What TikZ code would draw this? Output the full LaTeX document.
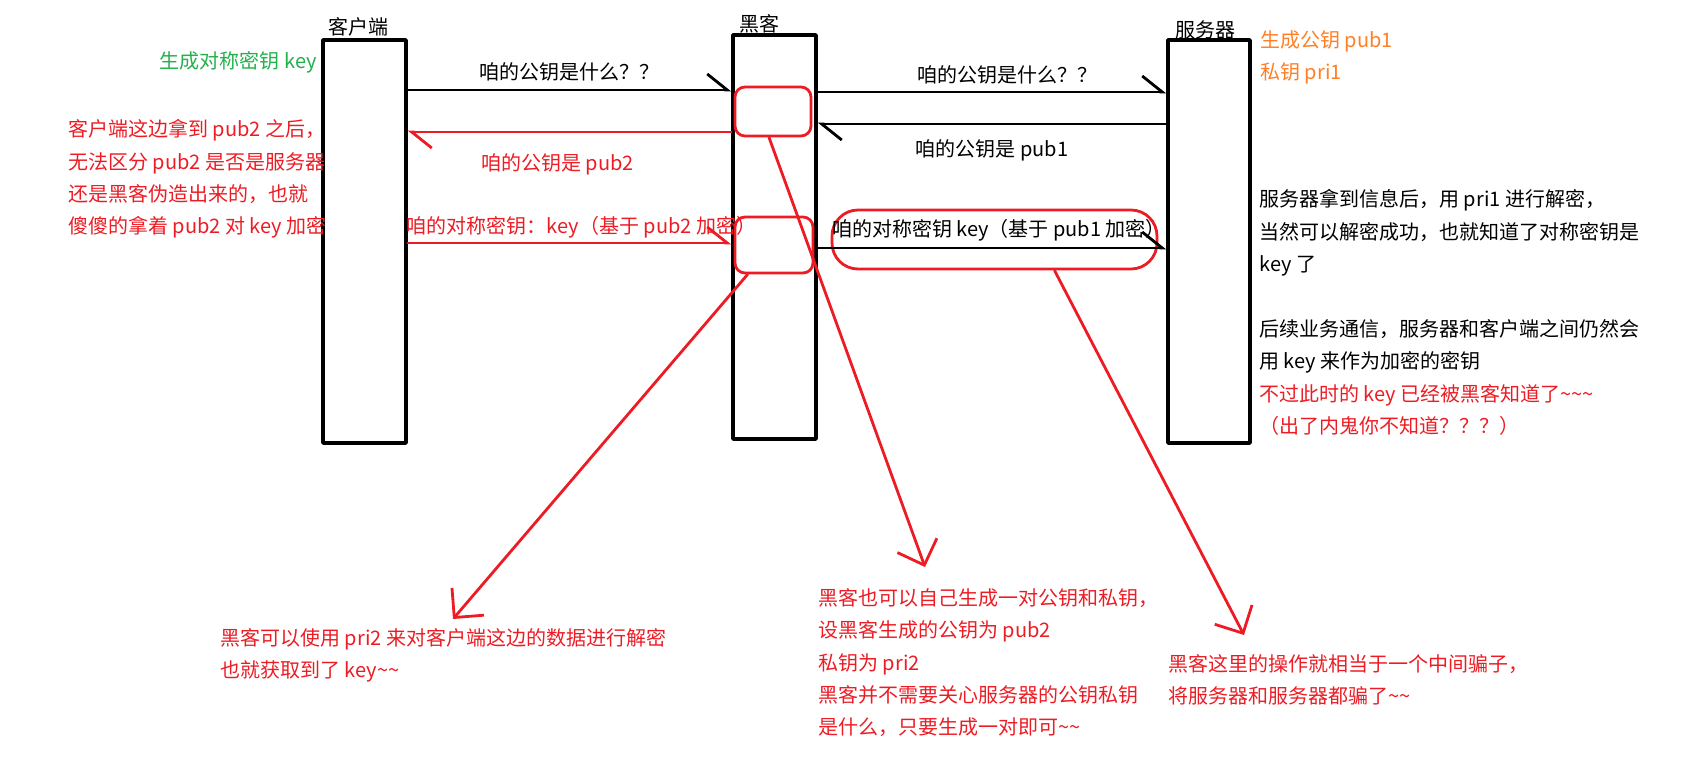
\documentclass[tikz,border=0pt]{standalone}
\usepackage{fontspec}
\setmainfont{Noto Sans CJK SC}
\usetikzlibrary{arrows.meta}
\definecolor{paintred}{RGB}{237,28,36}
\definecolor{paintgreen}{RGB}{34,177,76}
\definecolor{paintorange}{RGB}{255,127,39}
\tikzset{
  lifeline/.style={draw,line width=1.8pt,minimum width=41.5pt,minimum height=201.5pt,inner sep=0},
  fakebox/.style={draw=paintred,line width=1.4pt,rounded corners=5pt,inner sep=0},
  msg/.style={line width=1.4pt,-{Straight Barb[left,length=10pt,width=16pt]}},
  leak/.style={draw=paintred,line width=1.4pt,-{Straight Barb[length=10.5pt,width=21pt]}},
  lbl/.style={inner sep=0,font=\fontsize{10pt}{16.2pt}\selectfont},
  note/.style={inner sep=0,align=left,anchor=north west,font=\fontsize{10pt}{16.2pt}\selectfont}
}
\begin{document}
\begin{tikzpicture}[x=0.5pt,y=-0.5pt,line cap=round,line join=round]
  \useasboundingbox (0,0) rectangle (1692,757);
  % the three parties
  \node[lifeline] (client) at (364.5,241.5) {};
  \node[lifeline,minimum height=202pt] (hacker) at (774.5,237) {};
  \node[lifeline,minimum width=41pt] (server) at (1209,241.5) {};
  \node[lbl] (clientname) at (358,27) {客户端};
  \node[lbl] (hackername) at (759,24) {黑客};
  \node[lbl] (servername) at (1205,30) {服务器};
  % red marks on the hacker
  \node[fakebox,minimum width=38pt,minimum height=24.5pt] (fakepub) at (773,111.5) {};
  \node[fakebox,minimum width=39pt,minimum height=28pt] (fakekey) at (774,245) {};
  \node[fakebox,rounded corners=13pt,minimum width=162.5pt,minimum height=29.5pt] (realkey) at (994.5,239.5) {};
  % messages
  \draw[msg] (client.east |- 0,90) -- (hacker.west |- 0,90)
    node[lbl,midway,above=3.5pt] {咱的公钥是什么？？};
  \draw[msg] (hacker.east |- 0,92) -- (server.west |- 0,92)
    node[lbl,midway,above=3pt,xshift=7.5pt] {咱的公钥是什么？？};
  \draw[msg] (server.west |- 0,124) -- (hacker.east |- 0,124)
    node[lbl,midway,below=7pt] {咱的公钥是 pub1};
  \draw[msg,paintred] (hacker.west |- 0,132) -- (client.east |- 0,132)
    node[lbl,midway,below=10pt,xshift=-6pt] {咱的公钥是 pub2};
  \draw[msg,paintred] (client.east |- 0,243) -- (hacker.west |- 0,243)
    node[lbl,midway,above=1.5pt,xshift=6pt] {咱的对称密钥：key（基于 pub2 加密）};
  \draw[msg] (hacker.east |- 0,248) -- (server.west |- 0,248)
    node[lbl,midway,above=2.5pt,xshift=3.5pt] {咱的对称密钥 key（基于 pub1 加密）};
  % notes
  \node[note,text=paintgreen,anchor=east] (symkey) at (317,62) {生成对称密钥 key};
  \node[note,text=paintorange] (serverkeys) at (1260,30) {生成公钥 pub1\\私钥 pri1};
  \node[note,text=paintred] (clientnote) at (68,119) {客户端这边拿到 pub2 之后，\\无法区分 pub2 是否是服务器\\还是黑客伪造出来的，也就\\傻傻的拿着 pub2 对 key 加密};
  \node[note] (servernote) at (1259,189) {服务器拿到信息后，用 pri1 进行解密，\\当然可以解密成功，也就知道了对称密钥是\\key 了\\[16.2pt]后续业务通信，服务器和客户端之间仍然会\\用 key 来作为加密的密钥\\\textcolor{paintred}{不过此时的 key 已经被黑客知道了\textasciitilde\textasciitilde\textasciitilde}\\\textcolor{paintred}{（出了内鬼你不知道？？？）}};
  \node[note,text=paintred] (decryptnote) at (220,628) {黑客可以使用 pri2 来对客户端这边的数据进行解密\\也就获取到了 key\textasciitilde\textasciitilde};
  \node[note,text=paintred] (fakenote) at (818,588) {黑客也可以自己生成一对公钥和私钥，\\设黑客生成的公钥为 pub2\\私钥为 pri2\\黑客并不需要关心服务器的公钥私钥\\是什么，只要生成一对即可\textasciitilde\textasciitilde};
  \node[note,text=paintred] (mitmnote) at (1168,654) {黑客这里的操作就相当于一个中间骗子，\\将服务器和服务器都骗了\textasciitilde\textasciitilde};
  % pointers to the notes
  \coordinate (fakepubtip) at (925,567);
  \coordinate (fakekeytip) at (453,619);
  \coordinate (realkeytip) at (1244,635);
  \draw[leak] ([xshift=-2pt]fakepub.south) -- (fakepubtip);
  \draw[leak] ([xshift=7pt]fakekey.south west) -- (fakekeytip);
  \draw[leak] ([xshift=30pt]realkey.south) -- (realkeytip);
\end{tikzpicture}
\end{document}
